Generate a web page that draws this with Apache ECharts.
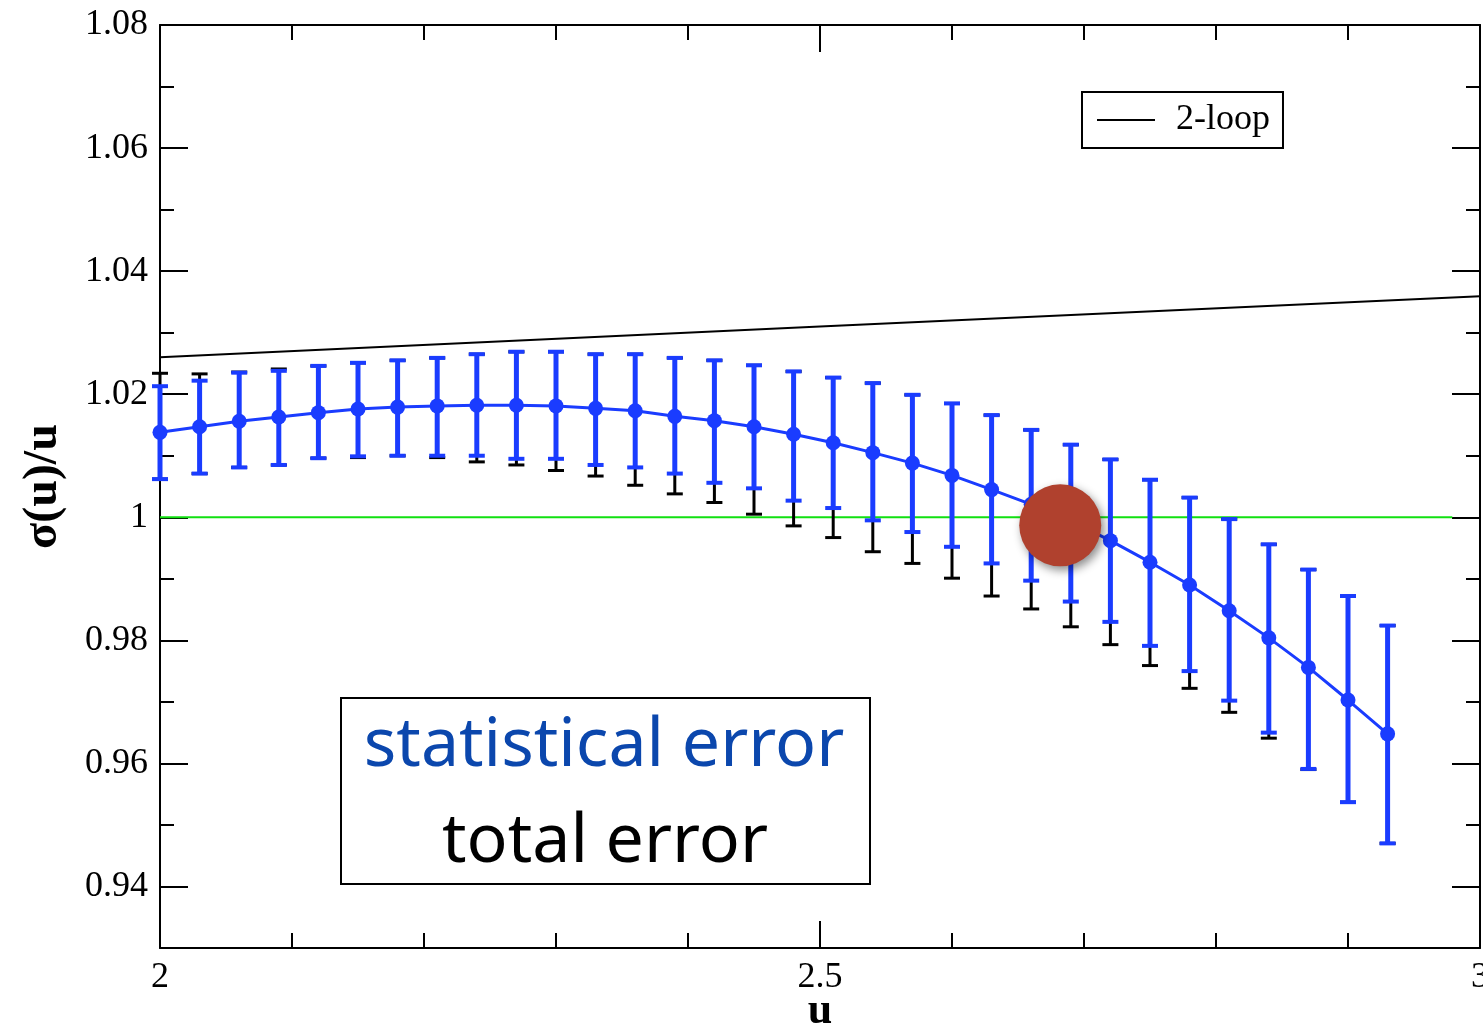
<!DOCTYPE html>
<html>
<head>
<meta charset="utf-8">
<title>σ(u)/u</title>
<script src="https://cdn.jsdelivr.net/npm/echarts@6/dist/echarts.min.js"></script>
<style>
  html, body { margin: 0; padding: 0; background: #ffffff; }
  #chart { width: 1483px; height: 1027px; }
</style>
</head>
<body>
<div id="chart"></div>
<script>
// Coupling values u at which the step scaling function was measured
const uValues = [2.00, 2.03, 2.06, 2.09, 2.12, 2.15, 2.18, 2.21, 2.24, 2.27, 2.30, 2.33, 2.36, 2.39, 2.42, 2.45,
                 2.48, 2.51, 2.54, 2.57, 2.60, 2.63, 2.66, 2.69, 2.72, 2.75, 2.78, 2.81, 2.84, 2.87, 2.90, 2.93];

// Central values of σ(u)/u
const sigmaRatio = [1.0138, 1.0147, 1.0156, 1.0163, 1.0170, 1.0176, 1.0179, 1.0181, 1.0182, 1.0182, 1.0181, 1.0177,
                    1.0173, 1.0164, 1.0157, 1.0147, 1.0135, 1.0121, 1.0105, 1.0088, 1.0068, 1.0045, 1.0021, 0.9994,
                    0.9962, 0.9927, 0.9890, 0.9848, 0.9804, 0.9756, 0.9703, 0.9648];

// Statistical error band (lower / upper ends)
const statLow = [1.0062, 1.0071, 1.0081, 1.0085, 1.0096, 1.0099, 1.0100, 1.0100, 1.0100, 1.0095, 1.0095, 1.0085,
                 1.0081, 1.0071, 1.0056, 1.0047, 1.0027, 1.0015, 0.9995, 0.9976, 0.9952, 0.9925, 0.9897, 0.9863,
                 0.9830, 0.9791, 0.9750, 0.9702, 0.9650, 0.9591, 0.9537, 0.9470];
const statHigh = [1.0213, 1.0222, 1.0235, 1.0238, 1.0246, 1.0251, 1.0255, 1.0259, 1.0265, 1.0269, 1.0269, 1.0265,
                  1.0265, 1.0259, 1.0255, 1.0247, 1.0237, 1.0227, 1.0218, 1.0199, 1.0185, 1.0166, 1.0142, 1.0118,
                  1.0094, 1.0061, 1.0032, 0.9997, 0.9956, 0.9915, 0.9872, 0.9824];

// Total (statistical + systematic) error ends
const totalLow = [1.0062, 1.0071, 1.0081, 1.0085, 1.0096, 1.0097, 1.0100, 1.0097, 1.0090, 1.0085, 1.0076, 1.0067,
                  1.0052, 1.0038, 1.0024, 1.0005, 0.9986, 0.9967, 0.9944, 0.9925, 0.9901, 0.9872, 0.9851, 0.9822,
                  0.9793, 0.9759, 0.9722, 0.9683, 0.9641, 0.9590, 0.9537, 0.9470];
const totalHigh = [1.0234, 1.0233, 1.0236, 1.0241, 1.0246, 1.0251, 1.0255, 1.0259, 1.0265, 1.0269, 1.0269, 1.0265,
                   1.0265, 1.0259, 1.0255, 1.0247, 1.0237, 1.0227, 1.0218, 1.0199, 1.0185, 1.0166, 1.0142, 1.0118,
                   1.0094, 1.0061, 1.0032, 0.9997, 0.9956, 0.9915, 0.9872, 0.9824];

// Two-loop perturbative curve
const twoLoopU = [2.0, 2.5, 3.0];
const twoLoopValues = [1.0260, 1.0310, 1.0359];

// Reference line σ(u)/u = 1
const unityU = [2.0, 2.979];
const unityValues = [1, 1];

// Highlighted crossing point
const crossingPoint = [2.682, 0.9987];

// Tick values
const xMajorTicks = [2, 2.5, 3];
const yMajorTicks = [0.94, 0.96, 0.98, 1.00, 1.02, 1.04, 1.06, 1.08];

const BLUE = '#1a3cff';
const SERIF = '"Liberation Serif", "DejaVu Serif", serif';
const SANS = '"Noto Sans", "Open Sans", sans-serif';

const chart = echarts.init(document.getElementById('chart'), null, { renderer: 'canvas' });

function errorBars(color, lineW, capW, capLineW) {
  return function (params, api) {
    const x = api.value(0);
    const lo = api.coord([x, api.value(1)]);
    const hi = api.coord([x, api.value(2)]);
    const h = capW / 2;
    return {
      type: 'group',
      children: [
        { type: 'line', shape: { x1: lo[0], y1: lo[1], x2: hi[0], y2: hi[1] },
          style: { stroke: color, lineWidth: lineW } },
        { type: 'line', shape: { x1: lo[0] - h, y1: lo[1], x2: lo[0] + h, y2: lo[1] },
          style: { stroke: color, lineWidth: capLineW } },
        { type: 'line', shape: { x1: hi[0] - h, y1: hi[1], x2: hi[0] + h, y2: hi[1] },
          style: { stroke: color, lineWidth: capLineW } }
      ]
    };
  };
}

const axisLineStyle = { show: true, lineStyle: { color: '#000', width: 2 } };
const noLine = { show: false };

function xAxisDef(position, major, withLabels) {
  return {
    type: 'value', min: 2, max: 3, position: position,
    interval: major ? 0.5 : 0.1,
    axisLine: major ? axisLineStyle : noLine,
    splitLine: { show: false },
    axisTick: major
      ? { show: true, inside: true, length: 27, customValues: xMajorTicks, lineStyle: { color: '#000', width: 2 } }
      : { show: true, inside: true, length: 15, lineStyle: { color: '#000', width: 2 } },
    axisLabel: withLabels
      ? { show: true, customValues: xMajorTicks, margin: 12, color: '#000', fontFamily: SERIF, fontSize: 36,
          formatter: v => String(+v.toFixed(1)) }
      : { show: false }
  };
}

function yAxisDef(position, major, withLabels) {
  return {
    type: 'value', min: 0.93, max: 1.08, position: position,
    interval: 0.01,
    axisLine: major ? axisLineStyle : noLine,
    splitLine: { show: false },
    axisTick: major
      ? { show: true, inside: true, length: 28, customValues: yMajorTicks, lineStyle: { color: '#000', width: 2 } }
      : { show: true, inside: true, length: 14, lineStyle: { color: '#000', width: 2 } },
    axisLabel: withLabels
      ? { show: true, customValues: yMajorTicks, margin: 12, color: '#000', fontFamily: SERIF, fontSize: 36,
          formatter: v => String(+v.toFixed(2)) }
      : { show: false }
  };
}

const xBottom = xAxisDef('bottom', true, true);
xBottom.name = 'u';
xBottom.nameLocation = 'middle';
xBottom.nameGap = 42;
xBottom.nameMoveOverlap = false;
xBottom.nameTextStyle = { color: '#000', fontFamily: SERIF, fontSize: 44, fontWeight: 'bold' };

const yLeft = yAxisDef('left', true, true);
yLeft.name = 'σ(u)/u';
yLeft.nameLocation = 'middle';
yLeft.nameGap = 92;
yLeft.nameMoveOverlap = false;
yLeft.nameTextStyle = { color: '#000', fontFamily: SERIF, fontSize: 48, fontWeight: 'bold' };

const option = {
  backgroundColor: '#ffffff',
  animation: false,
  grid: { left: 160, top: 25, right: 3, bottom: 79, containLabel: false, outerBoundsMode: 'none' },
  xAxis: [
    xBottom,
    xAxisDef('bottom', false, false),
    xAxisDef('top', true, false),
    xAxisDef('top', false, false)
  ],
  yAxis: [
    yLeft,
    yAxisDef('left', false, false),
    yAxisDef('right', true, false),
    yAxisDef('right', false, false)
  ],
  legend: {
    data: ['2-loop'],
    left: 1082, top: 92,
    borderColor: '#000', borderWidth: 2,
    padding: [10, 13, 10, 15],
    icon: 'rect',
    itemWidth: 58, itemHeight: 2,
    selectedMode: false,
    textStyle: { color: '#000', fontFamily: SERIF, fontSize: 36, padding: [0, 0, 0, 16] }
  },
  graphic: [
    { type: 'rect', left: 340, top: 697, z: 50,
      shape: { width: 529, height: 186 },
      style: { fill: '#ffffff', stroke: '#000', lineWidth: 2 } },
    { type: 'text', x: 604, y: 747, z: 51,
      style: { text: 'statistical error', fill: '#0b47ad', align: 'center', verticalAlign: 'middle',
               font: '68px ' + SANS } },
    { type: 'text', x: 605, y: 843, z: 51,
      style: { text: 'total error', fill: '#000', align: 'center', verticalAlign: 'middle',
               font: '68px ' + SANS } }
  ],
  series: [
    {
      name: '1',
      type: 'line',
      data: unityU.map((u, i) => [u, unityValues[i]]),
      symbol: 'none',
      lineStyle: { color: '#11e011', width: 2 },
      z: 1, silent: true
    },
    {
      name: '2-loop',
      type: 'line',
      data: twoLoopU.map((u, i) => [u, twoLoopValues[i]]),
      symbol: 'none',
      lineStyle: { color: '#000', width: 2 },
      itemStyle: { color: '#000' },
      z: 2, silent: true
    },
    {
      name: 'total error',
      type: 'custom',
      data: uValues.map((u, i) => [u, totalLow[i], totalHigh[i]]),
      renderItem: errorBars('#000', 3, 16, 3),
      encode: { x: 0, y: [1, 2] },
      z: 3, silent: true
    },
    {
      name: 'statistical error',
      type: 'custom',
      data: uValues.map((u, i) => [u, statLow[i], statHigh[i]]),
      renderItem: errorBars(BLUE, 5, 16, 4),
      encode: { x: 0, y: [1, 2] },
      z: 4, silent: true
    },
    {
      name: 'σ(u)/u',
      type: 'line',
      data: uValues.map((u, i) => [u, sigmaRatio[i]]),
      symbol: 'circle', symbolSize: 15,
      lineStyle: { color: BLUE, width: 3 },
      itemStyle: { color: BLUE },
      z: 5, silent: true
    },
    {
      name: 'crossing',
      type: 'scatter',
      data: [crossingPoint],
      symbol: 'circle', symbolSize: 82,
      itemStyle: { color: '#b0412e', opacity: 1, shadowBlur: 10, shadowColor: 'rgba(0,0,0,0.45)', shadowOffsetX: 3, shadowOffsetY: 4 },
      z: 10, silent: true
    }
  ]
};

chart.setOption(option);
</script>
</body>
</html>
